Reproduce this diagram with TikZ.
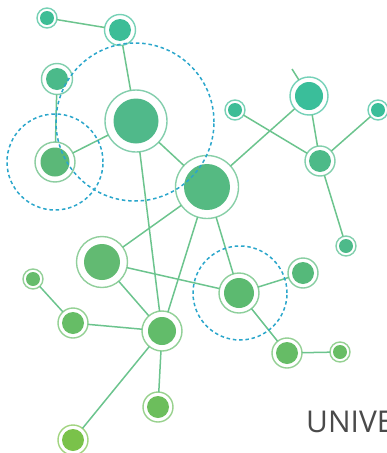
\documentclass[tikz,border=0pt]{standalone}
\usepackage{fontspec}
\setmainfont{Open Sans}
\definecolor{lnk}{HTML}{6CC48E}
\definecolor{dsh}{HTML}{2AA6CB}
\definecolor{txt}{HTML}{4A4A4A}
\definecolor{cA}{HTML}{3DBD95}
\definecolor{cB}{HTML}{3BBD97}
\definecolor{cC}{HTML}{4BBA8A}
\definecolor{cD}{HTML}{50B98A}
\definecolor{cE}{HTML}{5BB878}
\definecolor{cF}{HTML}{55BA82}
\definecolor{cG}{HTML}{3DBD96}
\definecolor{cH}{HTML}{3ABE9A}
\definecolor{cI}{HTML}{3ABE9A}
\definecolor{cJ}{HTML}{4DBA88}
\definecolor{cK}{HTML}{4DBA8A}
\definecolor{cL}{HTML}{62BA72}
\definecolor{cM}{HTML}{66BC6C}
\definecolor{cN}{HTML}{66BD66}
\definecolor{cO}{HTML}{62BC6A}
\definecolor{cP}{HTML}{6CBE5C}
\definecolor{cQ}{HTML}{7AC24A}
\definecolor{cR}{HTML}{5CBA70}
\definecolor{cS}{HTML}{55B97A}
\definecolor{cT}{HTML}{66BC66}
\definecolor{cU}{HTML}{68BD64}
\tikzset{
  netring/.style={circle, fill=white, line width=1.4pt, inner sep=0pt, outer sep=0pt},
  link/.style={draw=lnk, line width=1.5pt},
  dashring/.style={draw=dsh, line width=1.5pt, dash pattern=on 3.5pt off 2.8pt},
  label/.style={text=txt, font=\fontsize{30}{30}\selectfont, inner sep=0pt, anchor=base west}
}
\newcommand{\netnode}[6]{%
  \node[netring, draw=#6!70, minimum size=#5*2pt] (#1) at (#2,#3) {};
  \fill[#6] (#1.center) circle (#4pt);}
\begin{document}
\begin{tikzpicture}[x=1pt,y=-1pt]
\useasboundingbox (0,0) rectangle (387,453);
% nodes
\netnode{A}{47}{18}{7}{10}{cA}
\netnode{B}{120}{30}{11}{15.5}{cB}
\netnode{C}{57}{79}{11}{15.5}{cC}
\netnode{D}{136}{121}{22.5}{31}{cD}
\netnode{E}{55}{162}{14.5}{20}{cE}
\netnode{F}{207}{187}{23}{31.5}{cF}
\netnode{G}{235}{110}{7}{10}{cG}
\netnode{H}{309}{96}{14}{19}{cH}
\netnode{I}{378}{110}{7}{10}{cI}
\netnode{J}{320}{161}{11}{15}{cJ}
\netnode{K}{346}{246}{7}{10}{cK}
\netnode{L}{102}{262}{18}{25.5}{cL}
\netnode{M}{33}{279}{7}{10}{cM}
\netnode{N}{73}{323}{11}{15}{cN}
\netnode{O}{162}{331}{14}{20}{cO}
\netnode{P}{158}{407}{11}{15}{cP}
\netnode{Q}{73}{440}{11}{15}{cQ}
\netnode{R}{239}{293}{15}{20}{cR}
\netnode{S}{303}{273}{11}{15}{cS}
\netnode{T}{287}{353}{11}{15}{cT}
\netnode{U}{340}{352}{7}{10}{cU}
\coordinate (Hend) at (292,69);
% links
\path[link] (A) -- (B);
\path[link] (B) -- (D);
\path[link] (C) -- (E);
\path[link] (E) -- (D);
\path[link] (D) -- (F);
\path[link] (D) -- (O);
\path[link] (F) -- (H);
\path[link] (G) -- (J);
\path[link] (H) -- (J);
\path[link] (I) -- (J);
\path[link] (J) -- (K);
\path[link] (H) -- (Hend);
\path[link] (F) -- (L);
\path[link] (F) -- (O);
\path[link] (F) -- (R);
\path[link] (L) -- (R);
\path[link] (L) -- (O);
\path[link] (M) -- (N);
\path[link] (N) -- (O);
\path[link] (O) -- (P);
\path[link] (O) -- (Q);
\path[link] (R) -- (S);
\path[link] (R) -- (T);
\path[link] (T) -- (U);
% dashed halos (drawn over the nodes)
\draw[dashring] (135,122) circle (79pt);
\draw[dashring] (55,162) circle (48pt);
\draw[dashring] (240,293) circle (47pt);
% text
\node[label] (title) at (306,432) {UNIVE};
\end{tikzpicture}
\end{document}
